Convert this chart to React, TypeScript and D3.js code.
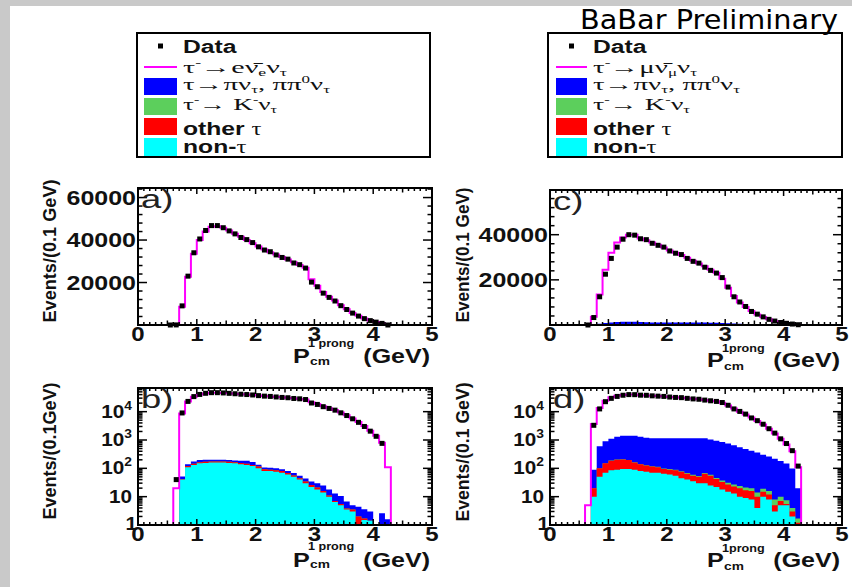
import React from 'react';
import * as d3 from 'd3';

// ---------- DATA ----------
// low edges of the 0.1 GeV bins
const binLowEdges = [0.5, 0.6, 0.7, 0.8, 0.9, 1.0, 1.1, 1.2, 1.3, 1.4, 1.5, 1.6, 1.7, 1.8, 1.9, 2.0, 2.1, 2.2, 2.3, 2.4, 2.5, 2.6, 2.7, 2.8, 2.9, 3.0, 3.1, 3.2, 3.3, 3.4, 3.5, 3.6, 3.7, 3.8, 3.9, 4.0, 4.1, 4.2];
const BIN_WIDTH = 0.1;

// electron channel (panels a, b)
const eMC = [0, 20, 8600, 22700, 33500, 40000, 44000, 46300, 46500, 45800, 44500, 43000, 41500, 40000, 38500, 37000, 35500, 34300, 33200, 32000, 30800, 29500, 28200, 27000, 21500, 18500, 15500, 13300, 11500, 9300, 7400, 5700, 4300, 3100, 2100, 1400, 800, 110];
const eData: (number | null)[] = [0, 40, 9000, 23000, 34000, 40500, 44500, 46800, 46800, 45800, 44300, 42900, 41200, 40200, 38800, 36800, 35300, 34500, 33000, 31800, 31000, 29200, 28400, 26800, 20200, 18000, 15000, 13000, 11300, 9100, 7300, 5600, 4200, 3000, 2050, 1350, 760, 0];
const eNonTau = [0, 0, 40, 110, 130, 150, 155, 160, 160, 160, 155, 150, 140, 130, 120, 100, 80, 80, 75, 70, 60, 50, 40, 30, 22, 18, 14, 10, 6.5, 5, 3.5, 3, 0, 1.5, 1.4, 0, 0, 0];
const eOtherTau = [0, 0, 2, 10, 15, 15, 15, 15, 15, 15, 15, 15, 15, 15, 12, 15, 12, 10, 10, 10, 8, 6, 5, 4, 4, 3, 2, 1, 0.5, 0.5, 0.3, 0.5, 2, 0.2, 0, 0, 0, 0];
const eKaon = [0, 0, 0, 0, 0, 0, 0, 0, 0, 0, 0, 0, 0, 0, 0, 0, 0, 0, 0, 0, 0, 0, 0, 0, 0, 0, 0, 0, 0, 0, 0, 0, 0, 0, 0, 0, 0, 0];
const ePion = [0, 0, 10, 20, 30, 30, 30, 25, 25, 25, 25, 25, 30, 40, 35, 20, 15, 15, 15, 12, 12, 12, 10, 10, 8, 9, 9, 7, 6, 5, 3, 1.5, 2.4, 1.9, 1.6, 0, 2.6, 1.6];

// muon channel (panels c, d)
const muMC = [0, 5, 3700, 13500, 24500, 32000, 36500, 38800, 40000, 40000, 38300, 37500, 36500, 35500, 34300, 33000, 32000, 31000, 29800, 28500, 27200, 26000, 24500, 23200, 20500, 16500, 12800, 10000, 8000, 6200, 4700, 3500, 2500, 1700, 1100, 700, 400, 110];
const muData: (number | null)[] = [null, 0, 3300, 12500, 22500, 29500, 34500, 38000, 40000, 39800, 38200, 37800, 36200, 35300, 34500, 32800, 31800, 31200, 29500, 28200, 27400, 25600, 24200, 23000, 21000, 16800, 12500, 10200, 8200, 6000, 4800, 3600, 2500, 1750, 1100, 750, 420, 120];
const muNonTau = [0, 0, 10, 50, 70, 85, 90, 95, 95, 90, 80, 75, 70, 70, 65, 60, 55, 45, 40, 35, 30, 30, 25, 22, 18, 15, 13, 10, 9, 8, 4, 10, 8, 3, 5, 5, 2, 1];
const muOtherTau = [0, 0, 10, 50, 80, 100, 110, 110, 100, 70, 60, 50, 45, 40, 30, 30, 30, 30, 25, 20, 20, 35, 30, 20, 15, 12, 10, 10, 8, 8, 6, 5, 4, 2, 2, 0.5, 1, 0.2];
const muKaon = [0, 0, 0, 1, 2, 3, 3, 3, 3, 3, 3, 3, 3, 3, 4, 4, 4, 4, 4, 4, 4, 4, 4, 4, 4, 4, 4, 4, 4, 4, 4, 4, 4, 3, 3, 2, 1, 0.5];
const muPion = [0, 0, 70, 500, 750, 910, 1100, 1190, 1200, 1240, 1160, 1070, 1030, 1040, 1050, 1060, 1060, 1070, 1080, 1090, 1100, 1080, 990, 900, 810, 720, 620, 530, 460, 400, 345, 280, 245, 210, 170, 140, 95, 18];

const xTickLabels = ['0', '1', '2', '3', '4', '5'];
const linTickLabels = ['20000', '40000', '60000'];

// ---------- STYLE ----------
const SANS = "'Liberation Sans', Arial, Helvetica, sans-serif";
const SERIF = "'Liberation Serif', 'Times New Roman', serif";
const C_BLUE = '#0000ff';
const C_GREEN = '#5ccf5c';
const C_RED = '#ff0000';
const C_CYAN = '#00ffff';
const C_MAG = '#ff00ff';

function T({ x, y, s, anchor = 'start', sx = 1.25, weight = 'bold', family = SANS, fill = '#111', rotate = 0, textLength, children }: any) {
  return (
    <g transform={`translate(${x},${y}) scale(${sx},1)${rotate ? ` rotate(${rotate})` : ''}`}>
      <text x={0} y={0} fontSize={s} textAnchor={anchor} fontFamily={family} fontWeight={weight} fill={fill}
        textLength={textLength} lengthAdjust={textLength ? 'spacingAndGlyphs' : undefined}>{children}</text>
    </g>
  );
}

type PanelProps = {
  l: number; r: number; t: number; b: number; log: boolean; yMax: number;
  mc: number[]; data: (number | null)[]; nonTau: number[]; otherTau: number[]; kaon: number[]; pion: number[];
  label: string; yTitle: string; yTitleX: number; yTitleY: number; yTitleLen: number;
  xt: { pX: number; base: number; supDy: number; subDy: number; sup: string; gevX: number };
};

function Panel(p: PanelProps) {
  const x = d3.scaleLinear().domain([0, 5]).range([p.l, p.r]);
  const y: any = p.log
    ? d3.scaleLog().domain([1, p.yMax]).range([p.b, p.t])
    : d3.scaleLinear().domain([0, p.yMax]).range([p.b, p.t]);
  const yy = (v: number) => {
    if (!(v > 0)) return p.b;
    if (p.log) return v <= 1 ? p.b : Math.max(p.t, y(v));
    return Math.max(p.t, y(v));
  };

  const cum1 = p.nonTau;
  const cum2 = cum1.map((v, i) => v + p.otherTau[i]);
  const cum3 = cum2.map((v, i) => v + p.kaon[i]);
  const cum4 = cum3.map((v, i) => v + p.pion[i]);
  const layers = [
    { vals: cum4, color: C_BLUE },
    { vals: cum3, color: C_GREEN },
    { vals: cum2, color: C_RED },
    { vals: cum1, color: C_CYAN },
  ];

  const stepPath = (vals: number[], close: boolean) => {
    const first = vals.findIndex((v) => v > 0);
    if (first < 0) return '';
    let last = vals.length - 1;
    while (last > 0 && !(vals[last] > 0)) last--;
    let d = `M${x(binLowEdges[first])},${p.b}`;
    for (let i = first; i <= last; i++) {
      d += `V${yy(vals[i])}H${x(binLowEdges[i] + BIN_WIDTH)}`;
    }
    d += `V${p.b}`;
    if (close) d += 'Z';
    return d;
  };

  // ticks
  const ticks: JSX.Element[] = [];
  for (let k = 0; k <= 50; k++) {
    const xv = k / 10;
    const len = k % 10 === 0 ? 6 : k % 5 === 0 ? 4.5 : 3;
    const X = x(xv);
    ticks.push(<line key={`xb${k}`} x1={X} x2={X} y1={p.b} y2={p.b - len} />);
    ticks.push(<line key={`xt${k}`} x1={X} x2={X} y1={p.t} y2={p.t + len} />);
  }
  const yTicks: { v: number; major: boolean }[] = [];
  if (p.log) {
    for (let d = 0; d <= 5; d++) {
      for (let k = 1; k <= 9; k++) {
        const v = k * Math.pow(10, d);
        if (v <= p.yMax) yTicks.push({ v, major: k === 1 });
      }
    }
  } else {
    for (let v = 0; v <= p.yMax; v += 4000) yTicks.push({ v, major: v % 20000 === 0 });
  }
  yTicks.forEach((tk, i) => {
    const Y = y(tk.v);
    const len = tk.major ? 9 : 4.5;
    ticks.push(<line key={`yl${i}`} x1={p.l} x2={p.l + len} y1={Y} y2={Y} />);
    ticks.push(<line key={`yr${i}`} x1={p.r} x2={p.r - len} y1={Y} y2={Y} />);
  });

  // y labels
  const yLabels: JSX.Element[] = [];
  if (p.log) {
    const decades = [0, 1, 2, 3, 4];
    decades.forEach((d) => {
      const Y = y(Math.pow(10, d));
      if (d === 0) yLabels.push(<T key="l0" x={p.l - 1} y={Y + 5} s={18} sx={1.15} anchor="end">1</T>);
      else if (d === 1) yLabels.push(<T key="l1" x={p.l - 6} y={Y + 6} s={18} sx={1.15} anchor="end">10</T>);
      else yLabels.push(
        <T key={`l${d}`} x={p.l - 6} y={Y + 6} s={18} sx={1.15} anchor="end">
          10<tspan dy={-8} fontSize={12}>{d}</tspan>
        </T>
      );
    });
  } else {
    linTickLabels.forEach((lab) => {
      const v = +lab;
      if (v > p.yMax) return;
      yLabels.push(<T key={lab} x={p.l - 2} y={y(v) + 7} s={20} sx={1.25} anchor="end">{lab}</T>);
    });
  }

  const markers: JSX.Element[] = [];
  p.data.forEach((v, i) => {
    if (v === null || v === undefined) return;
    if (p.log && v <= 1) return;
    const cx = x(binLowEdges[i] + BIN_WIDTH / 2);
    const cy = y(v);
    markers.push(<rect key={`m${i}`} x={cx - 2.5} y={cy - 2.5} width={5} height={5} fill="#000" />);
  });

  const clipId = `clip-${p.label.replace(')', '')}`;
  return (
    <g>
      <defs>
        <clipPath id={clipId}><rect x={p.l} y={p.t} width={p.r - p.l} height={p.b - p.t} /></clipPath>
      </defs>
      <g clipPath={`url(#${clipId})`}>
        {layers.map((ly) => (
          <path key={ly.color} d={stepPath(ly.vals, true)} fill={ly.color} stroke="none" />
        ))}
        <path d={stepPath(p.mc, false)} fill="none" stroke={C_MAG} strokeWidth={2} />
      </g>
      {markers}
      <g stroke="#000" strokeWidth={1.5}>{ticks}</g>
      <rect x={p.l} y={p.t} width={p.r - p.l} height={p.b - p.t} fill="none" stroke="#000" strokeWidth={2} />
      {xTickLabels.map((lab) => (
        <T key={`x${lab}`} x={x(+lab)} y={p.b + 16} s={20} sx={1.2} anchor="middle">{lab}</T>
      ))}
      {yLabels}
      <T x={p.l + 3} y={p.t + 20} s={26} sx={1.4} weight="normal" fill="#222">{p.label}</T>
      <T x={p.yTitleX} y={p.yTitleY} s={17} sx={1.1} rotate={-90} anchor="middle" textLength={p.yTitleLen}>{p.yTitle}</T>
      <T x={p.xt.pX} y={p.xt.base} s={21} sx={1.2}>P</T>
      <T x={p.xt.pX + 15} y={p.xt.base + p.xt.supDy} s={10.5} sx={1.2}>{p.xt.sup}</T>
      <T x={p.xt.pX + 17} y={p.xt.base + p.xt.subDy} s={11} sx={1.25}>cm</T>
      <T x={p.xt.gevX} y={p.xt.base} s={20} sx={1.25} anchor="end">(GeV)</T>
    </g>
  );
}

function Legend({ x0, x1, symX0, symX1, textX, lepton, len2, len3, len4 }: any) {
  const y0 = 33, y1 = 157;
  const sw = symX1 - symX0;
  const subS = 10;
  const gsx = 1.3;
  return (
    <g>
      <rect x={x0} y={y0} width={x1 - x0} height={y1 - y0} fill="#fff" />
      <rect x={(symX0 + symX1) / 2 - 2.5} y={43.5} width={5} height={5} fill="#000" />
      <line x1={symX0} x2={symX1} y1={67} y2={67} stroke={C_MAG} strokeWidth={2} />
      <rect x={symX0} y={78} width={sw} height={17} fill={C_BLUE} />
      <rect x={symX0} y={98} width={sw} height={17} fill={C_GREEN} />
      <rect x={symX0} y={118} width={sw} height={17} fill={C_RED} />
      <rect x={symX0} y={138} width={sw} height={19} fill={C_CYAN} />
      <T x={textX} y={53} s={19} sx={1.3}>Data</T>
      <T x={textX} y={73} s={17} sx={gsx} weight="normal" family={SERIF} textLength={len2 / gsx}>
        τ<tspan fontSize={subS} dy={-7}>-</tspan><tspan dy={7}>→{lepton}</tspan>
        <tspan>ν̄</tspan><tspan fontSize={subS} dy={3}>{lepton}</tspan>
        <tspan dy={-3}>ν</tspan><tspan fontSize={subS} dy={3}>τ</tspan>
      </T>
      <T x={textX} y={90} s={17} sx={gsx} weight="normal" family={SERIF} textLength={len3 / gsx}>
        τ→πν<tspan fontSize={subS} dy={3}>τ</tspan><tspan dy={-3}>, ππ</tspan>
        <tspan fontSize={subS} dy={-7}>0</tspan><tspan dy={7}>ν</tspan><tspan fontSize={subS} dy={3}>τ</tspan>
      </T>
      <T x={textX} y={110} s={17} sx={gsx} weight="normal" family={SERIF} textLength={len4 / gsx}>
        τ<tspan fontSize={subS} dy={-7}>-</tspan><tspan dy={7}>→ K</tspan><tspan fontSize={subS} dy={-7}>-</tspan>
        <tspan dy={7}>ν</tspan><tspan fontSize={subS} dy={3}>τ</tspan>
      </T>
      <T x={textX} y={135} s={19} sx={1.3}>other <tspan fontFamily={SERIF} fontWeight="normal">τ</tspan></T>
      <T x={textX} y={153} s={19} sx={1.3}>non-<tspan fontFamily={SERIF} fontWeight="normal">τ</tspan></T>
      <rect x={x0} y={y0} width={x1 - x0} height={y1 - y0} fill="none" stroke="#000" strokeWidth={2} />
    </g>
  );
}

export default function App() {
  return (
    <svg width={852} height={587} style={{ position: 'absolute', left: 0, top: 0 }} xmlns="http://www.w3.org/2000/svg">
      <rect x={0} y={0} width={852} height={587} fill="#c9c9c9" />
      <rect x={10} y={6} width={842} height={581} fill="#ffffff" />
      <Legend x0={137} x1={430} symX0={144} symX1={177} textX={183} lepton="e" len2={104} len3={147} len4={94} />
      <Legend x0={548} x1={842} symX0={556} symX1={587} textX={593} lepton="μ" len2={104} len3={147} len4={97} />
      <text x={838} y={29} fontSize={27} fontFamily="'DejaVu Sans', sans-serif" textAnchor="end" fill="#000"
        textLength={258} lengthAdjust="spacingAndGlyphs">BaBar Preliminary</text>

      <Panel l={138} r={432} t={188} b={325} log={false} yMax={64500}
        mc={eMC} data={eData} nonTau={eNonTau} otherTau={eOtherTau} kaon={eKaon} pion={ePion}
        label="a)" yTitle="Events/(0.1 GeV)" yTitleX={56} yTitleY={251} yTitleLen={143}
        xt={{ pX: 293, base: 363, supDy: -16, subDy: 2, sup: '1 prong', gevX: 430 }} />
      <Panel l={138} r={432} t={388} b={525} log={true} yMax={68400}
        mc={eMC} data={eData} nonTau={eNonTau} otherTau={eOtherTau} kaon={eKaon} pion={ePion}
        label="b)" yTitle="Events/(0.1GeV)" yTitleX={56} yTitleY={451} yTitleLen={137}
        xt={{ pX: 293, base: 567, supDy: -17, subDy: 1, sup: '1 prong', gevX: 430 }} />
      <Panel l={550} r={842} t={190} b={325} log={false} yMax={59800}
        mc={muMC} data={muData} nonTau={muNonTau} otherTau={muOtherTau} kaon={muKaon} pion={muPion}
        label="c)" yTitle="Events/(0.1 GeV)" yTitleX={469} yTitleY={255} yTitleLen={135}
        xt={{ pX: 707, base: 367, supDy: -15, subDy: 3, sup: '1prong', gevX: 840 }} />
      <Panel l={550} r={842} t={388} b={525} log={true} yMax={68400}
        mc={muMC} data={muData} nonTau={muNonTau} otherTau={muOtherTau} kaon={muKaon} pion={muPion}
        label="d)" yTitle="Events/(0.1 GeV)" yTitleX={469} yTitleY={452} yTitleLen={139}
        xt={{ pX: 707, base: 567, supDy: -15, subDy: 3, sup: '1prong', gevX: 840 }} />
    </svg>
  );
}
